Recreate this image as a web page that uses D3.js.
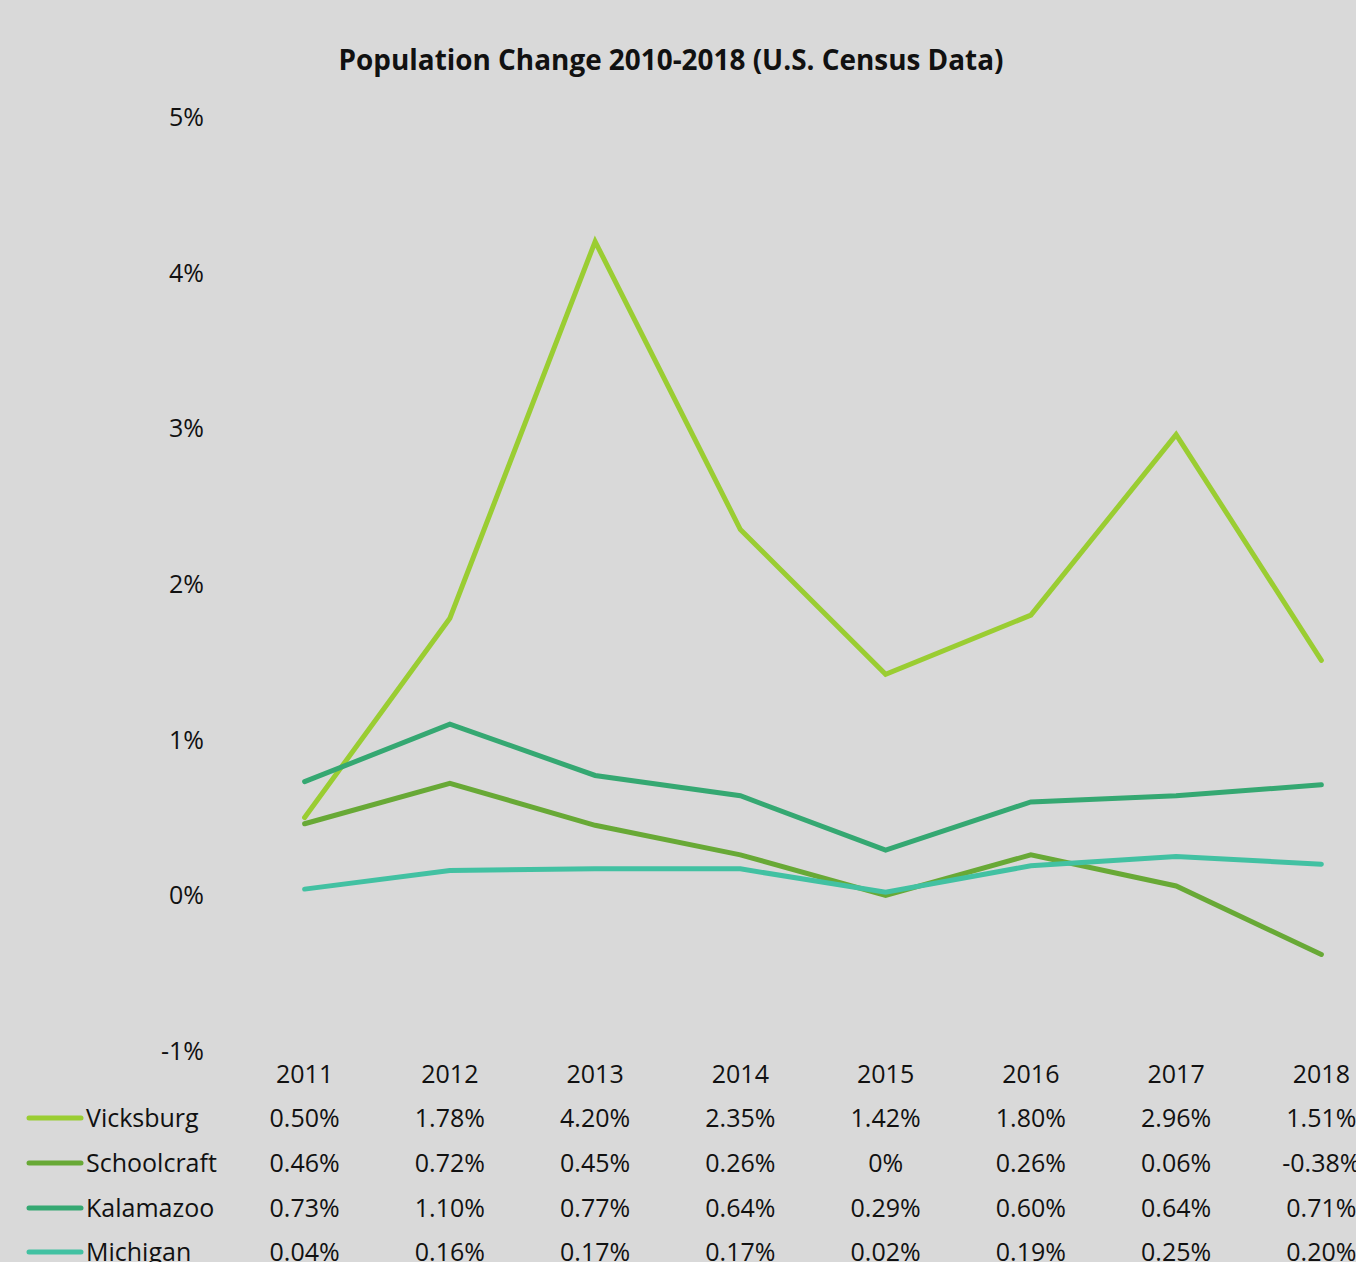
<!DOCTYPE html>
<html>
<head>
<meta charset="utf-8">
<script src="https://cdn.jsdelivr.net/npm/d3@7"></script>
<style>
  body { margin: 0; background: #d9d9d9; }
  svg { display: block; }
  text { font-family: "Open Sans", "Noto Sans", sans-serif; fill: #111; }
  .lbl { font-size: 25px; font-weight: 400; }
</style>
</head>
<body>
<svg id="chart" width="1356" height="1262"></svg>
<script>
const years = ['2011', '2012', '2013', '2014', '2015', '2016', '2017', '2018'];
const vicksburg = [0.50, 1.78, 4.20, 2.35, 1.42, 1.80, 2.96, 1.51];
const schoolcraft = [0.46, 0.72, 0.45, 0.26, 0, 0.26, 0.06, -0.38];
const kalamazoo = [0.73, 1.10, 0.77, 0.64, 0.29, 0.60, 0.64, 0.71];
const michigan = [0.04, 0.16, 0.17, 0.17, 0.02, 0.19, 0.25, 0.20];
const yTicks = [-1, 0, 1, 2, 3, 4, 5];
const seriesNames = ['Vicksburg', 'Schoolcraft', 'Kalamazoo', 'Michigan'];
const seriesColors = ['#9acd32', '#68a936', '#35a872', '#42c1a2'];

const series = [vicksburg, schoolcraft, kalamazoo, michigan].map((values, i) => ({
  name: seriesNames[i], color: seriesColors[i], values
}));

const svg = d3.select('svg#chart');

// band spans past the right edge, like the original
const x = d3.scaleBand().domain(years).range([232, 1394]);
const y = d3.scaleLinear().domain([-1, 5]).range([1051, 117]);
const cx = d => x(d) + x.bandwidth() / 2;
const TEXT_SHIFT = -1; // "central" sits a bit low in Open Sans

// title, fitted to the original's width
const title = svg.append('text')
    .attr('x', 671)
    .attr('y', 60 + TEXT_SHIFT)
    .attr('text-anchor', 'middle')
    .attr('dominant-baseline', 'central')
    .style('font-weight', 700)
    .style('font-size', '27px')
    .text('Population Change 2010-2018 (U.S. Census Data)');
const tw = title.node().getComputedTextLength();
title.style('font-size', (27 * 666 / tw).toFixed(1) + 'px');

// y axis labels only
svg.append('g').selectAll('text')
  .data(yTicks)
  .join('text')
    .attr('class', 'lbl')
    .attr('x', 204)
    .attr('y', d => y(d) + TEXT_SHIFT)
    .attr('text-anchor', 'end')
    .attr('dominant-baseline', 'central')
    .text(d => d + '%');

const line = d3.line()
    .x((d, i) => cx(years[i]))
    .y(d => y(d));

svg.append('g').selectAll('path')
  .data(series)
  .join('path')
    .attr('d', d => line(d.values))
    .attr('fill', 'none')
    .attr('stroke', d => d.color)
    .attr('stroke-width', 5)
    .attr('stroke-linecap', 'round')
    .attr('stroke-linejoin', 'miter');

// data table under the plot
const table = svg.append('g');
table.selectAll('text.year')
  .data(years)
  .join('text')
    .attr('class', 'year lbl')
    .attr('x', d => cx(d))
    .attr('y', 1074 + TEXT_SHIFT)
    .attr('text-anchor', 'middle')
    .attr('dominant-baseline', 'central')
    .text(d => d);

const rowY = [1118, 1163, 1208, 1252];
const fmt = v => v === 0 ? '0%' : v.toFixed(2) + '%';

series.forEach((s, r) => {
  const row = table.append('g');
  row.append('line')
      .attr('x1', 29).attr('x2', 81)
      .attr('y1', rowY[r]).attr('y2', rowY[r])
      .attr('stroke', s.color)
      .attr('stroke-width', 5)
      .attr('stroke-linecap', 'round');
  row.append('text')
      .attr('class', 'lbl')
      .attr('x', 86)
      .attr('y', rowY[r] + TEXT_SHIFT)
      .attr('dominant-baseline', 'central')
      .text(s.name);
  row.selectAll('text.val')
    .data(s.values)
    .join('text')
      .attr('class', 'val lbl')
      .attr('x', (d, i) => cx(years[i]))
      .attr('y', rowY[r] + TEXT_SHIFT)
      .attr('text-anchor', 'middle')
      .attr('dominant-baseline', 'central')
      .text(fmt);
});
</script>
</body>
</html>
